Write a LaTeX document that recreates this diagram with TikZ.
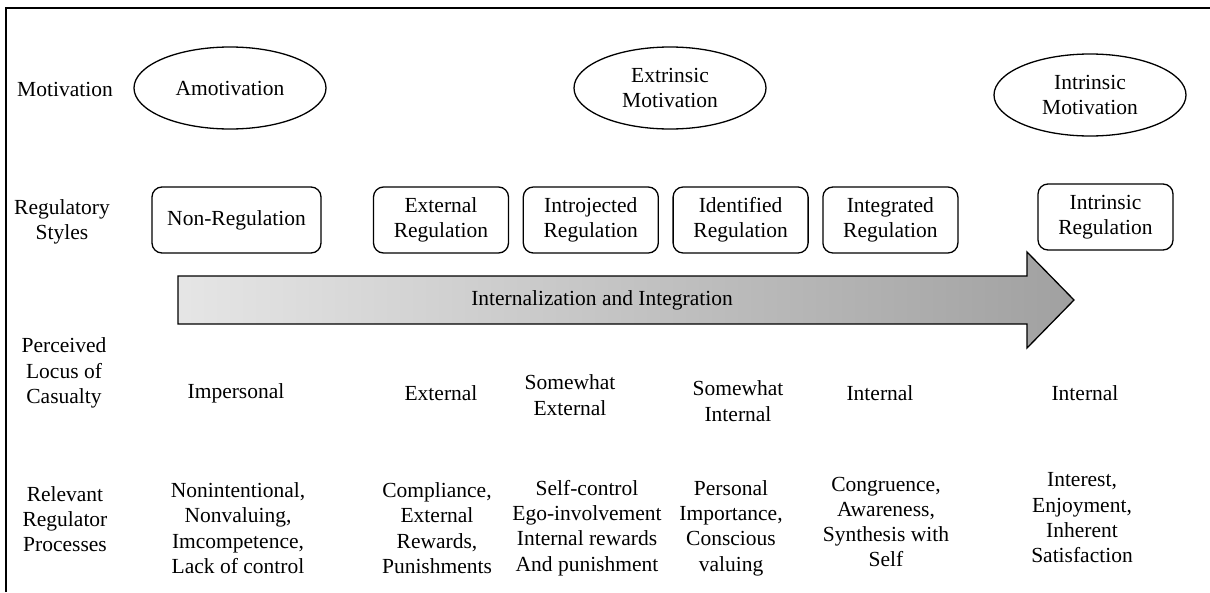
\documentclass[tikz,border=0pt]{standalone}
\usepackage{fontspec}
\setmainfont{Liberation Serif}
\usetikzlibrary{shapes.geometric,positioning}

\begin{document}
\begin{tikzpicture}[
    x=1pt, y=-1pt,
    every node/.style={font=\fontsize{21.5}{25.3}\selectfont, align=center, inner sep=0pt},
    motiv/.style={draw, ellipse, line width=1.3pt, minimum width=192pt, minimum height=82pt},
    regbox/.style={draw, rounded corners=10pt, line width=1.3pt, minimum height=66pt, minimum width=135pt},
    bigarrow/.style={draw, line width=1.3pt, left color=black!10, right color=black!37}
]
\useasboundingbox (0,0) rectangle (1210,592);
\draw[line width=2pt] (6,592) -- (6,8) -- (1210,8);

% row labels
\node (lmot) at (65,89) {Motivation};
\node (lreg) at (62,222) {Regulatory\\Styles};
\node (lloc) at (64,373) {Perceived\\Locus of\\Casualty};
\node (lproc) at (65,519) {Relevant\\Regulator\\Processes};

% motivation
\node[motiv] (amot) at (230,88) {Amotivation};
\node[motiv] (extr) at (670,88) {Extrinsic\\Motivation};
\node[motiv] (intr) at (1090,95) {Intrinsic\\Motivation};

% regulatory styles
\node[regbox, minimum width=169pt] (nonreg) at (236.5,220) {Non-Regulation};
\node[regbox] (extreg) at (441,220) {External\\Regulation};
\node[regbox, right=13.5pt of extreg] (introreg) {Introjected\\Regulation};
\node[regbox, right=13.5pt of introreg] (identreg) {Identified\\Regulation};
\node[regbox, right=13.5pt of identreg] (integreg) {Integrated\\Regulation};
\node[regbox] (intrreg) at (1105.5,217) {Intrinsic\\Regulation};

% internalization arrow
\draw[bigarrow] (178,276) -- (1027,276) -- (1027,252) -- (1074,300)
    -- (1027,348) -- (1027,324) -- (178,324) -- cycle;
\node (internal) at (602,300) {Internalization and Integration};

% locus of causality
\node (impers) at (236,393) {Impersonal};
\node (extloc) at (441,393) {External};
\node (swext) at (570,395) {Somewhat\\External};
\node (swint) at (738,401) {Somewhat\\Internal};
\node (intloc) at (880,393) {Internal};
\node (intloc2) at (1085,393) {Internal};

% regulator processes
\node (procnon) at (238,528) {Nonintentional,\\Nonvaluing,\\Imcompetence,\\Lack of control};
\node (procext) at (437,528) {Compliance,\\External\\Rewards,\\Punishments};
\node (procintro) at (587,528) {Self-control\\Ego-involvement\\Internal rewards\\And punishment};
\node (procident) at (731,528) {Personal\\Importance,\\Conscious\\valuing};
\node (procinteg) at (886,522) {Congruence,\\Awareness,\\Synthesis with\\Self};
\node (procintr) at (1082,518) {Interest,\\Enjoyment,\\Inherent\\Satisfaction};
\end{tikzpicture}
\end{document}
